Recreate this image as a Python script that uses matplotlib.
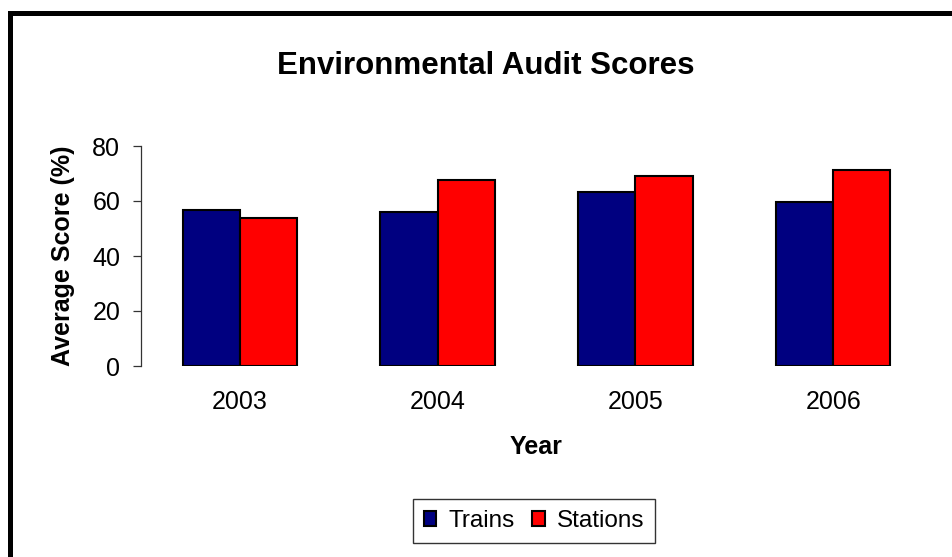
import matplotlib
matplotlib.use("Agg")
import matplotlib.pyplot as plt
import numpy as np
from matplotlib.patches import Rectangle

plt.rcParams['font.family'] = ['Liberation Sans', 'DejaVu Sans']

years = ["2003", "2004", "2005", "2006"]
trains = [56.7, 56.0, 63.3, 59.7]
stations = [53.8, 67.5, 69.1, 71.2]
y_ticks = [0, 20, 40, 60, 80]

W, H = 952, 557
fig = plt.figure(figsize=(W / 100, H / 100), dpi=100)
ax = fig.add_axes([141 / W, 1 - 366 / H, 791 / W, 220 / H])

x = np.arange(len(years))
bw = 0.29
ax.bar(x - bw / 2, trains, bw, color='#000080', edgecolor='black', linewidth=1.5, label='Trains')
ax.bar(x + bw / 2, stations, bw, color='#FF0000', edgecolor='black', linewidth=1.5, label='Stations')

ax.set_xlim(-0.5, 3.5)
ax.set_ylim(0, 80)
ax.set_yticks(y_ticks)
ax.set_xticks(x)
ax.set_xticklabels(years)

for s in ['top', 'right', 'bottom']:
    ax.spines[s].set_visible(False)
ax.spines['left'].set_color('#333333')
ax.spines['left'].set_linewidth(0.9)
ax.tick_params(axis='y', length=6, width=0.9, color='#333333', labelsize=18, pad=9)
ax.tick_params(axis='x', length=0, labelsize=18, pad=17)

ax.set_ylabel("Average Score (%)", fontsize=18, fontweight='bold', labelpad=12)
ax.set_xlabel("Year", fontsize=18, fontweight='bold', labelpad=15.5)
fig.text(486 / W, 1 - 74.3 / H, "Environmental Audit Scores", fontsize=22.5,
         fontweight='bold', ha='center', va='baseline')

leg = ax.legend(loc='center', bbox_to_anchor=(534 / W, 1 - 521 / H),
                bbox_transform=fig.transFigure, ncol=2, fontsize=17.5,
                frameon=True, fancybox=False, handlelength=0.52, handleheight=0.55,
                handletextpad=0.5, columnspacing=0.7, borderpad=0.45,
                borderaxespad=0)
leg.get_frame().set_edgecolor('black')
leg.get_frame().set_linewidth(1.0)

# outer chart border (only top and left edges visible in the crop)
fig.add_artist(Rectangle((9.8 / W, -0.1), 1.2, 1 - 12.5 / H + 0.1,
                         transform=fig.transFigure, fill=False,
                         edgecolor='black', linewidth=3.6, clip_on=False))

fig.savefig("out.png", dpi=100)
